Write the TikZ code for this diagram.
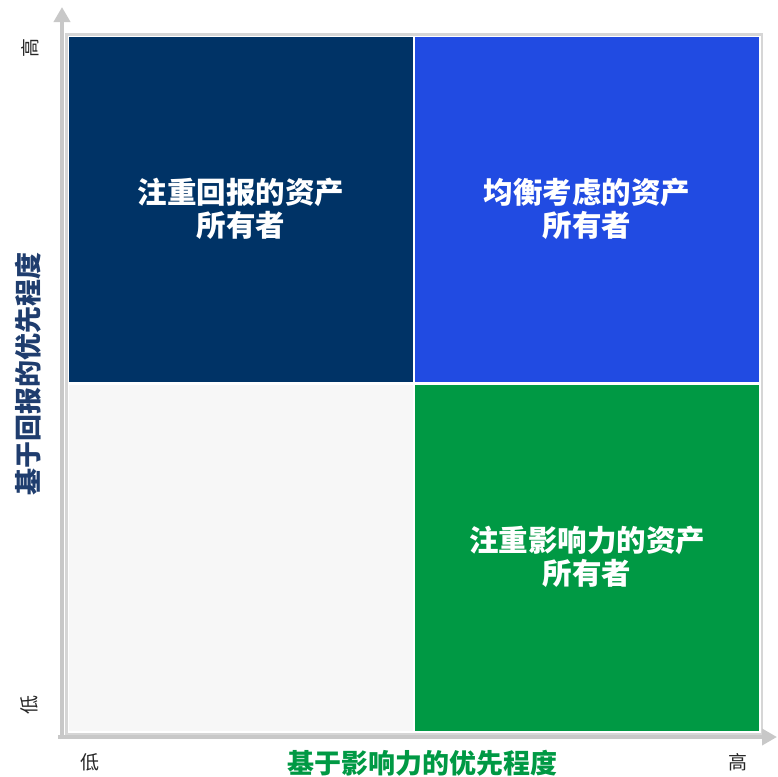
\documentclass[tikz,border=0pt]{standalone}
\usepackage{fontspec}
\newfontfamily\cjk{Noto Sans CJK SC}
\usetikzlibrary{arrows.meta}
\definecolor{navy}{HTML}{003366}
\definecolor{qblue}{HTML}{214BE2}
\definecolor{qgreen}{HTML}{009944}
\definecolor{qgray}{HTML}{F7F7F7}
\definecolor{axisgray}{HTML}{C8C8C8}
\definecolor{framegray}{HTML}{D6D6D6}
\definecolor{ytitle}{HTML}{1F3D6E}
\tikzset{
  quad/.style={draw=white, line width=1.5pt},
  qtext/.style={text=white, font=\cjk\bfseries\fontsize{29.5}{33}\selectfont, align=center},
  axisline/.style={draw=axisgray, line width=4pt, -{Triangle[length=15pt,width=16pt]}},
  ticklab/.style={font=\cjk\fontsize{19}{19}\selectfont, text=black!85},
  axtitle/.style={font=\cjk\bfseries\fontsize{27}{27}\selectfont},
}
\begin{document}
\begin{tikzpicture}[x=1pt,y=-1pt]
\useasboundingbox (0,0) rectangle (777,777);
% frame
\fill[framegray] (65,33) rectangle (763,735);
\fill[white] (68,36) rectangle (760,732);
% quadrants
\path[quad, fill=navy] (68.5,36.5) rectangle (413.5,383);
\path[quad, fill=qblue] (414.5,36.5) rectangle (760,383);
\path[quad, fill=qgray] (68.5,384) rectangle (413.5,732);
\path[quad, fill=qgreen] (414.5,384) rectangle (760,732);
% axes
\coordinate (o) at (62,739);
\coordinate (ytop) at (62,7);
\coordinate (xo) at (58,737);
\coordinate (xend) at (777,737);
\draw[axisline] (o) -- (ytop);
\draw[axisline] (xo) -- (xend);
% quadrant labels
\node[qtext] (q1) at (241,209) {注重回报的资产\\所有者};
\node[qtext] (q2) at (587,209) {均衡考虑的资产\\所有者};
\node[qtext] (q4) at (587,557) {注重影响力的资产\\所有者};
% tick labels
\node[ticklab, rotate=90] (yh) at (30,48) {高};
\node[ticklab, rotate=90] (yl) at (29,705) {低};
\node[ticklab] (xl) at (90,762) {低};
\node[ticklab] (xh) at (738,762) {高};
% axis titles
\node[rotate=90, text=ytitle, axtitle] (yt) at (28,374) {基于回报的优先程度};
\node[text=qgreen, axtitle] (xt) at (422,763) {基于影响力的优先程度};
\end{tikzpicture}
\end{document}
